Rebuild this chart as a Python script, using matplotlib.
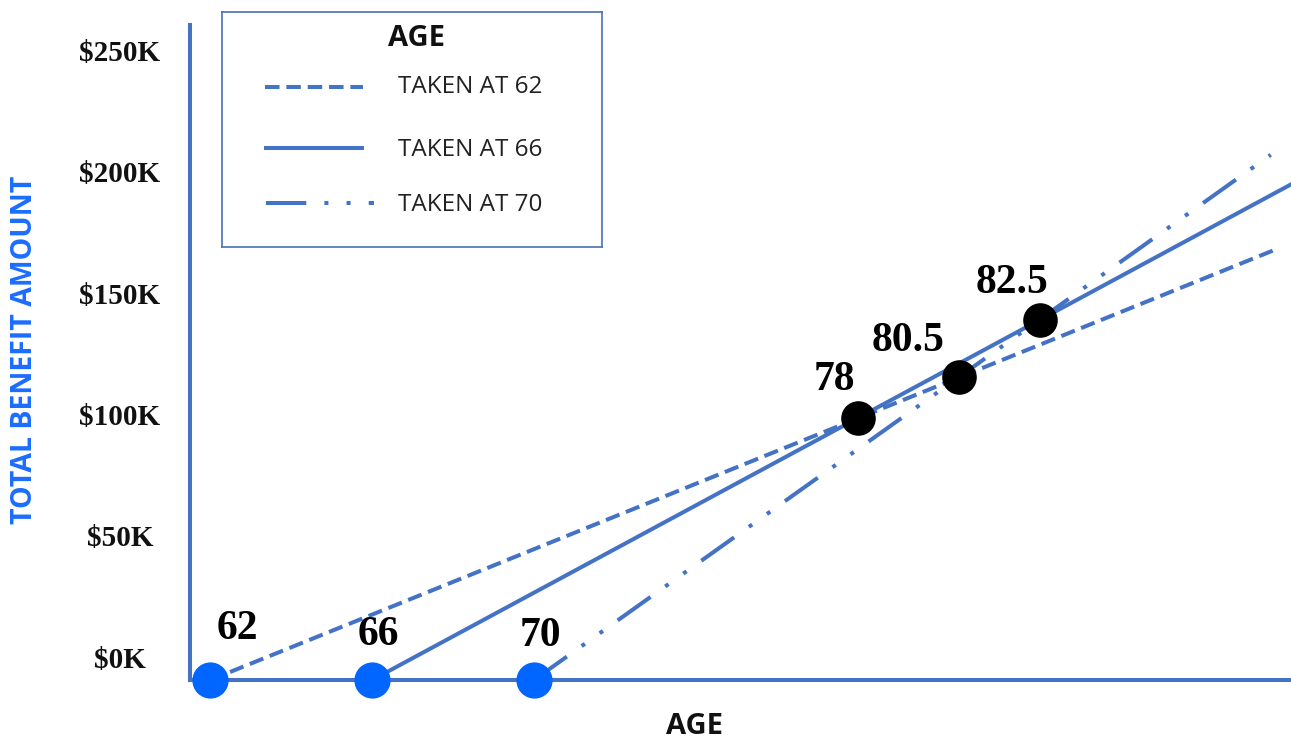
import numpy as np
import matplotlib
matplotlib.use("Agg")
import matplotlib.pyplot as plt

# ages at which benefits are first taken, and cumulative totals ($K) where each line ends
start_ages = [62, 66, 70]
end_ages = [88.4, 89.0, 88.2]
end_totals = [178, 207, 216.5]
series_labels = ["TAKEN AT 62", "TAKEN AT 66", "TAKEN AT 70"]

# break-even ages and the cumulative total there ($K)
breakeven_ages = [78, 80.5, 82.5]
breakeven_totals = [108, 125, 148.5]

ytick_values = [0, 50, 100, 150, 200, 250]

W, H = 1291, 740
line_color = "#4472C4"
dot_blue = "#0066FF"
title_blue = "#1A6DFF"
lw = 2.9

styles = [(0, (3.6, 1.7)), "-", (0, (10, 4.5, 1, 4.5, 1, 4.5))]

fig = plt.figure(figsize=(W / 100, H / 100), dpi=100)
ax = fig.add_axes([190 / W, 60 / H, 1101 / W, 655 / H])
ax.set_xlim(61.5, 88.7)
ax.set_ylim(0, 270)

for a0, a1, v1, ls in zip(start_ages, end_ages, end_totals, styles):
    ax.plot([a0, a1], [0, v1], color=line_color, lw=lw, ls=ls, solid_capstyle="butt", zorder=2)

ax.scatter(start_ages, np.zeros(len(start_ages)), s=680, color=dot_blue, zorder=5, clip_on=False, linewidths=0)
ax.scatter(breakeven_ages, breakeven_totals, s=620, color="black", zorder=5, linewidths=0)

# age labels next to each dot
serif = dict(family="Liberation Serif", weight="bold", fontsize=30, color="black")
start_offsets = [(27, 51), (6, 45), (6, 44)]
for a, off in zip(start_ages, start_offsets):
    ax.annotate(f"{a:g}", xy=(a, 0), xytext=off, textcoords="offset pixels",
                ha="center", va="center", annotation_clip=False, **serif)
be_offsets = [(-24, 38), (-51, 36), (-28, 37)]
for a, v, off in zip(breakeven_ages, breakeven_totals, be_offsets):
    ax.annotate(f"{a:g}", xy=(a, v), xytext=off, textcoords="offset pixels",
                ha="center", va="center", **serif)

# axes: only left and bottom, drawn in blue
for side in ["top", "right"]:
    ax.spines[side].set_visible(False)
for side in ["left", "bottom"]:
    ax.spines[side].set_color(line_color)
    ax.spines[side].set_linewidth(lw)
ax.set_xticks([])
ax.set_yticks([])

for v in ytick_values:
    ax.annotate(f"${v}K", xy=(0, v), xycoords=("axes fraction", "data"),
                xytext=(-70, 20), textcoords="offset pixels", ha="center", va="center",
                family="Liberation Serif", weight="bold", fontsize=21, color="#111111",
                annotation_clip=False)

fig.text(25 / W, 1 - 350 / H, "TOTAL BENEFIT AMOUNT", rotation=90, ha="center", va="center",
         family="Open Sans", weight="bold", fontsize=20.5, color=title_blue)
fig.text(695 / W, 1 - 727 / H, "AGE", ha="center", va="center",
         family="Open Sans", weight="bold", fontsize=21, color="#111111")

# legend box
lax = fig.add_axes([222 / W, 1 - 247 / H, 380 / W, 235 / H])
lax.set_xlim(0, 380)
lax.set_ylim(235, 0)
lax.set_xticks([])
lax.set_yticks([])
for sp in lax.spines.values():
    sp.set_color("#4A6FB5")
    sp.set_linewidth(1.2)
lax.text(195, 27, "AGE", ha="center", va="center", family="Open Sans", weight="bold",
         fontsize=21, color="#111111")
sample_x = [(43, 141), (42, 142), (44, 152)]
sample_y = [75, 136, 191]
text_y = [75, 138, 193]
for (x0, x1), y, ty, ls, lab in zip(sample_x, sample_y, text_y, styles, series_labels):
    lax.plot([x0, x1], [y, y], color=line_color, lw=lw, ls=ls, solid_capstyle="butt")
    lax.text(176, ty, lab, ha="left", va="center", family="Open Sans", fontsize=17.5, color="#222222")

fig.savefig("out.png", dpi=100)
